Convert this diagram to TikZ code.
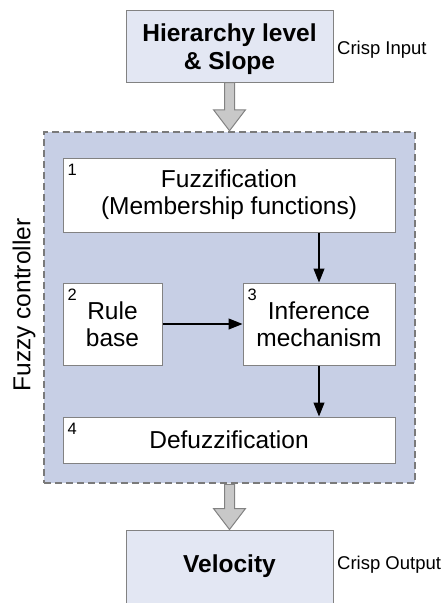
\documentclass[tikz,border=0pt]{standalone}
\usepackage{fontspec}
\setmainfont{Liberation Sans}
\usetikzlibrary{arrows.meta, positioning}

\definecolor{ioblue}{RGB}{227,231,243}
\definecolor{ctrlblue}{RGB}{199,207,229}
\definecolor{framegray}{RGB}{130,130,130}
\definecolor{dashgray}{RGB}{122,122,122}
\definecolor{pipegray}{RGB}{200,200,200}

\tikzset{
  iobox/.style={draw=framegray, line width=1pt, fill=ioblue, minimum width=207pt, align=center, inner sep=0pt, font=\fontsize{24.5}{28}\selectfont\bfseries},
  stage/.style={draw=framegray, line width=1pt, fill=white, align=center, inner sep=0pt, font=\fontsize{24.5}{27}\selectfont},
  num/.style={font=\fontsize{16.5}{18}\selectfont, anchor=north west, inner sep=0pt, xshift=5pt, yshift=-6pt},
  note/.style={font=\fontsize{18.5}{20}\selectfont, anchor=west, inner sep=0pt},
  flow/.style={-{Triangle[length=14pt,width=11pt]}, line width=1.1pt},
  pipe/.style={draw=framegray, fill=pipegray, line width=1pt, line join=miter},
}

\begin{document}
\begin{tikzpicture}[x=1pt, y=-1pt]
\useasboundingbox (0,0) rectangle (445,603);

% controller frame
\node[draw=dashgray, fill=ctrlblue, line width=2.5pt, dash pattern=on 7pt off 4pt, minimum width=371pt, minimum height=351pt] (ctrl) at (229.5,307.5) {};
\node[rotate=90, font=\fontsize{24.5}{27}\selectfont, inner sep=0pt] (ctrllabel) at (24,305) {Fuzzy controller};

% crisp in / out
\node[iobox, minimum height=72pt] (input) at (229.5,46) {\rule{0pt}{25pt}Hierarchy level\\\& Slope};
\node[note] (crispin) at (337,50) {Crisp Input};
\node[iobox, minimum height=76pt, text depth=8pt] (output) at (229.5,568) {Velocity};
\node[note] (crispout) at (337,565) {Crisp Output};

% stages
\node[stage, minimum width=332pt, minimum height=74pt, label={[num]north west:1}] (fuzz) at (229,195) {Fuzzification\\(Membership functions)};
\node[stage, minimum width=99pt, minimum height=82pt, label={[num]north west:2}] (rules) at (112.5,324) {Rule\\base};
\node[stage, minimum width=152pt, minimum height=82pt, label={[num]north west:3}] (infer) at (319,324) {Inference\\mechanism};
\node[stage, minimum width=332pt, minimum height=46pt, label={[num]north west:4}] (defuzz) at (229,440) {Defuzzification};

\draw[flow] (fuzz.south -| infer.north) -- (infer.north);
\draw[flow] (rules.east) -- (infer.west);
\draw[flow] (infer.south) -- (infer.south |- defuzz.north);

% block arrows in and out of the controller
\draw[pipe] ([xshift=-5pt]input.south) -- ([xshift=-5pt,yshift=21pt]ctrl.north) -- ([xshift=-16pt,yshift=21pt]ctrl.north) -- (ctrl.north) -- ([xshift=16pt,yshift=21pt]ctrl.north) -- ([xshift=5pt,yshift=21pt]ctrl.north) -- ([xshift=5pt]input.south) -- cycle;
\draw[pipe] ([xshift=-5pt]ctrl.south) -- ([xshift=-5pt,yshift=21pt]output.north) -- ([xshift=-16pt,yshift=21pt]output.north) -- (output.north) -- ([xshift=16pt,yshift=21pt]output.north) -- ([xshift=5pt,yshift=21pt]output.north) -- ([xshift=5pt]ctrl.south) -- cycle;
\end{tikzpicture}
\end{document}
